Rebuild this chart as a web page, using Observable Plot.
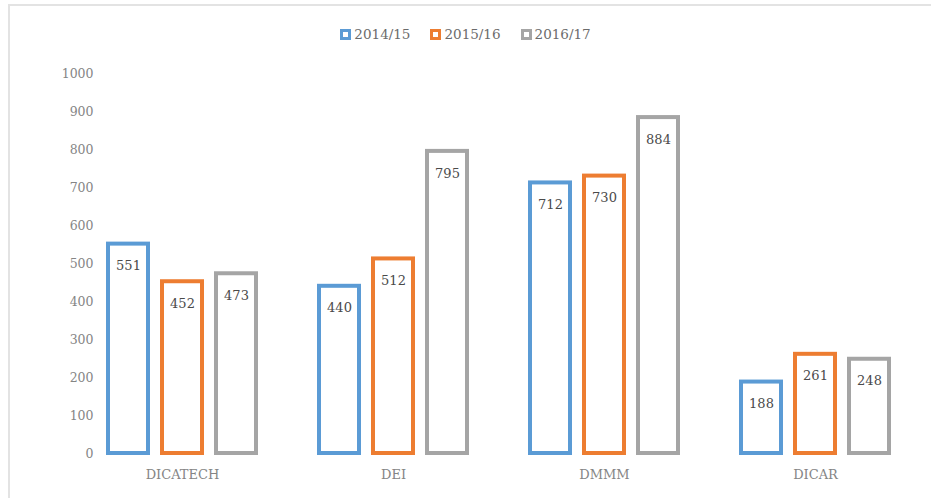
<!DOCTYPE html>
<html>
<head>
<meta charset="utf-8">
<script src="https://cdn.jsdelivr.net/npm/d3@7"></script>
<script src="https://cdn.jsdelivr.net/npm/@observablehq/plot@0.6"></script>
<style>
  html, body { margin: 0; padding: 0; background: #fff; }
  #frame { position: relative; width: 931px; height: 498px; overflow: hidden; }
  #border { position: absolute; left: 8px; top: 4px; width: 940px; height: 600px;
            border-left: 2px solid #e3e3e3; border-top: 2px solid #e3e3e3; box-sizing: border-box; }
  #legend { position: absolute; top: 24px; left: 0; width: 931px; height: 20px;
            display: flex; justify-content: center; gap: 20px;
            font-family: "DejaVu Serif", serif; font-size: 13.5px; color: #6b6b6b; }
  .item { display: flex; align-items: center; gap: 3px; }
  .sw { width: 5px; height: 5px; border: 3px solid; background: #fff; }
  #chart { position: absolute; top: 50px; left: 0; }
</style>
</head>
<body>
<div id="frame">
  <div id="border"></div>
  <div id="legend"></div>
  <div id="chart"></div>
</div>
<script>
const departments = ["DICATECH", "DEI", "DMMM", "DICAR"];
const years = ["2014/15", "2015/16", "2016/17"];
const colors = ["#5B9BD5", "#ED7D31", "#A5A5A5"];
const values2014 = [551, 440, 712, 188];
const values2015 = [452, 512, 730, 261];
const values2016 = [473, 795, 884, 248];
const yTicks = [0, 100, 200, 300, 400, 500, 600, 700, 800, 900, 1000];

const series = [values2014, values2015, values2016];
const data = [];
departments.forEach((d, i) => {
  years.forEach((y, j) => data.push({dept: d, year: y, value: series[j][i]}));
});

const legend = document.getElementById("legend");
years.forEach((y, j) => {
  const it = document.createElement("div");
  it.className = "item";
  const sw = document.createElement("span");
  sw.className = "sw";
  sw.style.borderColor = colors[j];
  const t = document.createElement("span");
  t.textContent = y;
  it.appendChild(sw); it.appendChild(t);
  legend.appendChild(it);
});

const chart = Plot.plot({
  width: 931,
  height: 448,
  marginLeft: 75,
  marginRight: 10,
  marginTop: 23,
  marginBottom: 45,
  style: {fontFamily: "DejaVu Serif, serif", fontSize: "13px", background: "transparent"},
  fx: {domain: departments, paddingInner: 0.3, paddingOuter: 0.15, label: null},
  x: {domain: years, paddingInner: 0.26, paddingOuter: 0, axis: null},
  y: {domain: [0, 1000], ticks: yTicks, label: null},
  color: {domain: years, range: colors},
  marks: [
    Plot.axisY({ticks: yTicks, tickSize: 0, tickPadding: 15, label: null, color: "#858585", fontSize: 12.5, tickFormat: d => String(d)}),
    Plot.axisFx({anchor: "bottom", tickSize: 0, tickPadding: 16, label: null, color: "#858585", fontSize: 13}),
    Plot.barY(data, {fx: "dept", x: "year", y: "value", fill: "white", stroke: "year", strokeWidth: 4}),
    Plot.text(data, {fx: "dept", x: "year", y: "value", text: d => String(d.value), dy: 22, fill: "#4a4a4a", fontSize: 13})
  ]
});
document.getElementById("chart").appendChild(chart);
</script>
</body>
</html>
